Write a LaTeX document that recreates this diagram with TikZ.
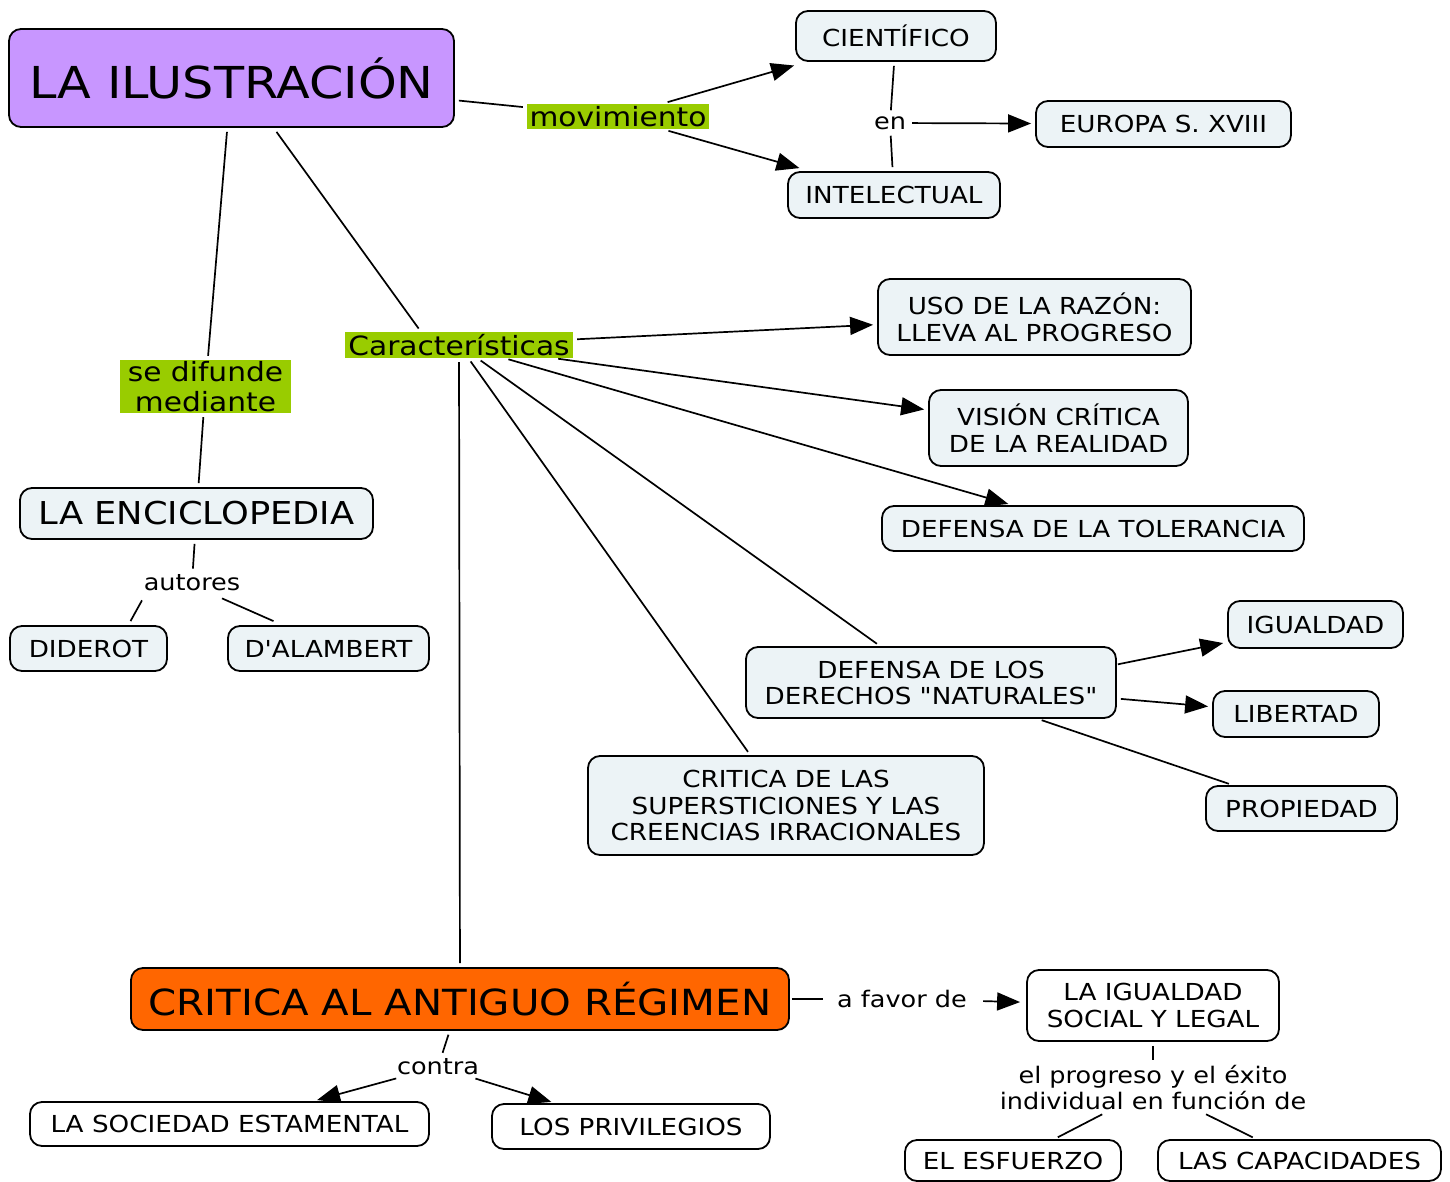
\documentclass[tikz,border=0pt]{standalone}
\usepackage{fontspec}
\newfontfamily\mf{DejaVu Sans}[FakeStretch=1.12]
\usetikzlibrary{arrows.meta,calc}
\definecolor{ilpurple}{RGB}{200,150,255}
\definecolor{lgreen}{RGB}{153,204,0}
\definecolor{corange}{RGB}{255,102,0}
\definecolor{boxfill}{RGB}{236,243,246}
\begin{document}
\begin{tikzpicture}[x=1pt,y=-1pt,
  every node/.style={font=\mf},
  box/.style={draw, line width=1.8pt, rounded corners=12pt, fill=boxfill, align=center, inner sep=0pt, font=\mf\fontsize{23.4}{27}\selectfont},
  wbox/.style={box, fill=white},
  glbl/.style={fill=lgreen, align=center, inner sep=0pt, font=\mf\fontsize{26.5}{30}\selectfont},
  lbl/.style={align=center, inner sep=2pt, font=\mf\fontsize{22.8}{26}\selectfont},
  conn/.style={line width=1.7pt, shorten <=4pt, shorten >=4pt},
  arr/.style={conn, -{Triangle[length=23pt,width=18pt]}},
]
\fill[white] (0,0) rectangle (1450,1182);
\useasboundingbox (0,0) rectangle (1450,1182);

% nodes
\node[box, fill=ilpurple, minimum width=445pt, minimum height=98pt, font=\mf\fontsize{44}{50}\selectfont] (title) at (231.5,78) {LA ILUSTRACIÓN};
\node[glbl, minimum width=182pt, minimum height=25pt] (mov) at (618,116.5) {movimiento};
\node[box, minimum width=200pt, minimum height=50pt] (cient) at (896,36) {CIENTÍFICO};
\node[box, minimum width=212pt, minimum height=46pt] (intel) at (894,195) {INTELECTUAL};
\node[lbl] (en) at (890,123) {en};
\node[box, minimum width=255pt, minimum height=46pt] (europa) at (1163.5,124) {EUROPA S. XVIII};

\node[glbl, minimum width=171pt, minimum height=53pt] (sedif) at (205.5,386.5) {se difunde\\mediante};
\node[box, minimum width=353pt, minimum height=51pt, font=\mf\fontsize{31.5}{36}\selectfont] (enc) at (196.5,513.5) {LA ENCICLOPEDIA};
\node[lbl] (aut) at (192,583) {autores};
\node[box, minimum width=157pt, minimum height=45pt] (dide) at (88.5,648.5) {DIDEROT};
\node[box, minimum width=201pt, minimum height=45pt] (dal) at (328.5,648.5) {D'ALAMBERT};

\node[glbl, minimum width=228pt, minimum height=26pt] (car) at (459,345) {Características};
\node[box, minimum width=313pt, minimum height=76pt] (uso) at (1034.5,317) {USO DE LA RAZÓN:\\LLEVA AL PROGRESO};
\node[box, minimum width=259pt, minimum height=76pt] (vis) at (1058.5,428) {VISIÓN CRÍTICA\\DE LA REALIDAD};
\node[box, minimum width=422pt, minimum height=45pt] (tol) at (1093,528.5) {DEFENSA DE LA TOLERANCIA};
\node[box, minimum width=370pt, minimum height=71pt, font=\mf\fontsize{23.4}{26}\selectfont] (der) at (931,682.5) {DEFENSA DE LOS\\DERECHOS "NATURALES"};
\node[box, minimum width=396pt, minimum height=99pt, font=\mf\fontsize{23.4}{26.5}\selectfont] (sup) at (786,805.5) {CRITICA DE LAS\\SUPERSTICIONES Y LAS\\CREENCIAS IRRACIONALES};
\node[box, minimum width=175pt, minimum height=47pt] (igu) at (1315.5,624.5) {IGUALDAD};
\node[box, minimum width=166pt, minimum height=46pt] (lib) at (1296,714) {LIBERTAD};
\node[box, minimum width=191pt, minimum height=45pt] (prop) at (1301.5,808.5) {PROPIEDAD};

\node[box, fill=corange, minimum width=658pt, minimum height=62pt, font=\mf\fontsize{36}{42}\selectfont] (crit) at (460,999) {CRITICA AL ANTIGUO RÉGIMEN};
\node[lbl] (afav) at (902,999) {a favor de};
\node[wbox, minimum width=252pt, minimum height=71pt] (ligu) at (1153,1005.5) {LA IGUALDAD\\SOCIAL Y LEGAL};
\node[lbl] (prog) at (1153,1088) {el progreso y el éxito\\individual en función de};
\node[wbox, minimum width=216pt, minimum height=41pt] (esf) at (1013,1160.5) {EL ESFUERZO};
\node[wbox, minimum width=283pt, minimum height=41pt] (cap) at (1299.5,1160.5) {LAS CAPACIDADES};
\node[lbl] (cont) at (438,1067) {contra};
\node[wbox, minimum width=399pt, minimum height=44pt] (soc) at (229.5,1124) {LA SOCIEDAD ESTAMENTAL};
\node[wbox, minimum width=278pt, minimum height=45pt] (priv) at (631,1126.5) {LOS PRIVILEGIOS};

% connectors
\draw[conn] (title) -- (mov);
\draw[arr, shorten <=6pt, shorten >=13pt] (mov) -- (cient);
\draw[arr, shorten <=6pt, shorten >=11pt] (mov) -- (intel);
\draw[conn] (cient) -- (en);
\draw[conn] (en) -- (intel);
\draw[arr] (en) -- (europa);

\draw[conn] (title) -- (sedif);
\draw[conn] (sedif) -- (enc);
\draw[conn] (enc) -- (aut);
\draw[conn, shorten <=0pt, shorten >=0pt] ($(aut.south)+(-50,7)$) -- ($(dide.north)+(42,-4)$);
\draw[conn, shorten <=0pt, shorten >=0pt] ($(aut.south)+(30,5)$) -- ($(dal.north)+(-55,-4)$);

\draw[conn, shorten <=0pt] ($(title.south)+(45,4)$) -- ($(car.north)+(-38,0)$);
\draw[arr] (car) -- (uso);
\draw[arr] (car) -- (vis);
\draw[arr] (car) -- (tol);
\draw[conn] (car) -- (der);
\draw[conn] (car) -- (sup);
\draw[conn] (car) -- (crit);

\draw[arr, shorten <=1pt] ($(der.east)+(0,-18)$) -- (igu);
\draw[arr] (der) -- (lib);
\draw[conn] (der) -- (prop);

\draw[conn, shorten <=2pt, shorten >=12pt] (crit) -- (afav);
\draw[arr, shorten <=14pt, shorten >=6pt] (afav) -- (ligu);
\draw[conn] (ligu) -- (prog);
\draw[conn] (prog) -- (esf);
\draw[conn] (prog) -- (cap);
\draw[conn] (crit) -- (cont);
\draw[arr] (cont) -- (soc);
\draw[arr] (cont) -- (priv);
\end{tikzpicture}
\end{document}
